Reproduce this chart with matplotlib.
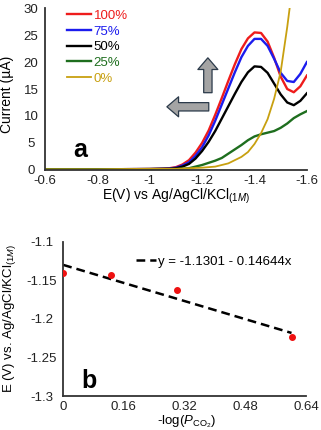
import numpy as np
import matplotlib
matplotlib.use('Agg')
import matplotlib.pyplot as plt

plt.rcParams['font.family'] = ['Liberation Sans', 'DejaVu Sans']
plt.rcParams['mathtext.fontset'] = 'custom'
plt.rcParams['mathtext.rm'] = 'Liberation Sans'
plt.rcParams['mathtext.it'] = 'Liberation Sans:italic'

# panel a: voltammograms
potencial = [-0.6, -0.8, -1.0, -1.05, -1.075, -1.1, -1.125, -1.15, -1.175, -1.2,
             -1.225, -1.25, -1.275, -1.3, -1.325, -1.35, -1.375, -1.4, -1.425,
             -1.45, -1.475, -1.5, -1.525, -1.55, -1.575, -1.6]
i_100 = [0.1, 0.1, 0.15, 0.2, 0.3, 0.5, 1.0, 1.8, 3.2, 5.0,
         7.3, 10.2, 13.3, 16.5, 19.6, 22.4, 24.4, 25.5, 25.4,
         23.8, 20.8, 17.3, 15.0, 14.4, 15.5, 17.5]
i_75 = [0.1, 0.1, 0.15, 0.2, 0.25, 0.4, 0.8, 1.4, 2.6, 4.2,
        6.4, 9.1, 12.1, 15.1, 18.1, 20.9, 23.0, 24.3, 24.3,
        23.0, 20.6, 18.0, 16.5, 16.3, 17.8, 20.0]
i_50 = [0.1, 0.1, 0.15, 0.2, 0.2, 0.3, 0.6, 1.1, 2.1, 3.5,
        5.2, 7.2, 9.5, 11.8, 14.1, 16.3, 18.1, 19.2, 19.1,
        18.0, 16.0, 14.0, 12.5, 12.0, 12.8, 14.2]
i_25 = [0.1, 0.1, 0.1, 0.1, 0.1, 0.1, 0.2, 0.3, 0.6, 0.9,
        1.3, 1.7, 2.2, 3.0, 3.8, 4.6, 5.5, 6.2, 6.6,
        6.9, 7.2, 7.8, 8.6, 9.6, 10.3, 10.9]
i_0 = [0.1, 0.1, 0.2, 0.2, 0.2, 0.2, 0.25, 0.3, 0.35, 0.4,
       0.5, 0.6, 0.9, 1.2, 1.8, 2.4, 3.3, 4.8, 6.8,
       9.4, 13.2, 18.2, 26.5, 36.0, 48.0, 62.0]
series_a = [('100%', i_100, '#ee1c1c'), ('75%', i_75, '#1c1cee'), ('50%', i_50, 'black'),
            ('25%', i_25, '#1e6e1e'), ('0%', i_0, '#c8a010')]

# panel b: peak potential vs -log(pCO2)
mlog_p = [0.0, 0.125, 0.301, 0.602]
e_pico = [-1.140, -1.1435, -1.163, -1.224]
ordenada, pendiente = -1.1301, -0.14644

fig = plt.figure(figsize=(3.21, 4.30), dpi=100)
ax1 = fig.add_axes([0.140, 0.605, 0.816, 0.376])
ax2 = fig.add_axes([0.197, 0.079, 0.756, 0.359])

gris = '#333333'
for ax in (ax1, ax2):
    for s in ('top', 'right'):
        ax.spines[s].set_visible(False)
    for s in ('left', 'bottom'):
        ax.spines[s].set_color(gris)
        ax.spines[s].set_linewidth(1.3)
    ax.tick_params(length=0, labelsize=9.5, colors='#222222')

ax1.tick_params(axis='y', pad=10)
ax1.tick_params(axis='x', pad=4.0)
ax2.tick_params(axis='y', pad=15.5)
ax2.tick_params(axis='x', pad=3.5)

for etiqueta, valores, color in series_a:
    lw = 1.3 if etiqueta == '0%' else 1.7
    ax1.plot(potencial, valores, color=color, lw=lw, label=etiqueta)

ax1.set_xlim(-0.6, -1.6)
ax1.set_ylim(0, 30)
ax1.set_xticks([-0.6, -0.8, -1.0, -1.2, -1.4, -1.6])
ax1.set_xticklabels(['-0.6', '-0.8', '-1', '-1.2', '-1.4', '-1.6'])
ax1.set_yticks(range(0, 31, 5))
ax1.set_yticklabels([str(v) for v in range(0, 31, 5)], ha='center')
ax1.set_xlabel('E(V) vs Ag/AgCl/KCl$_{(1M)}$', fontsize=10)
ax1.xaxis.set_label_coords(0.5, -0.105)
ax1.set_ylabel('Current (µA)', fontsize=10)
ax1.yaxis.set_label_coords(-0.118, 0.465)
ax1.legend(loc='upper left', bbox_to_anchor=(0.085, 0.99), frameon=False,
           fontsize=9.5, labelcolor='linecolor', handlelength=1.8,
           handletextpad=0.2, labelspacing=0.26, borderpad=0, borderaxespad=0)
ax1.text(0.135, 0.12, 'a', transform=ax1.transAxes, fontsize=18, fontweight='bold',
         ha='center', va='center')

flecha = dict(arrowstyle='simple,head_length=0.7,head_width=1.2,tail_width=0.5',
              fc='#a4a4a4', ec='#2b3a4a', lw=0.9, mutation_scale=12)
ax1.annotate('', xy=(0.622, 0.71), xytext=(0.622, 0.46), xycoords='axes fraction',
             arrowprops=flecha)
ax1.annotate('', xy=(0.455, 0.39), xytext=(0.636, 0.39), xycoords='axes fraction',
             arrowprops=flecha)

# panel b
x_tend = np.array([min(mlog_p), max(mlog_p)])
ax2.plot(x_tend, ordenada + pendiente * x_tend, ls=(0, (3.5, 2)), color='black', lw=1.8,
         label='y = -1.1301 - 0.14644x')
ax2.plot(mlog_p, e_pico, 'o', color='#ee1111', ms=4, zorder=3)
ax2.set_xlim(0, 0.64)
ax2.set_ylim(-1.3, -1.1)
ax2.set_xticks([0, 0.16, 0.32, 0.48, 0.64])
ax2.set_xticklabels(['0', '0.16', '0.32', '0.48', '0.64'])
ax2.set_yticks([-1.3, -1.25, -1.2, -1.15, -1.1])
ax2.set_yticklabels(['-1.3', '-1.25', '-1.2', '-1.15', '-1.1'], ha='center')
ax2.set_xlabel('-log($\\mathit{P}_{\\mathrm{CO_2}}$)', fontsize=9.5)
ax2.xaxis.set_label_coords(0.51, -0.11)
ax2.set_ylabel('E (V) vs. Ag/AgCl/KCl$_{(1M)}$', fontsize=9.5)
ax2.yaxis.set_label_coords(-0.185, 0.5)
ax2.legend(loc='upper left', bbox_to_anchor=(0.30, 0.91), frameon=False, fontsize=9.5,
           handlelength=1.5, handletextpad=0.2, borderpad=0, borderaxespad=0)
ax2.text(0.105, 0.1, 'b', transform=ax2.transAxes, fontsize=18, fontweight='bold',
         ha='center', va='center')

fig.savefig('out.png', dpi=100)
